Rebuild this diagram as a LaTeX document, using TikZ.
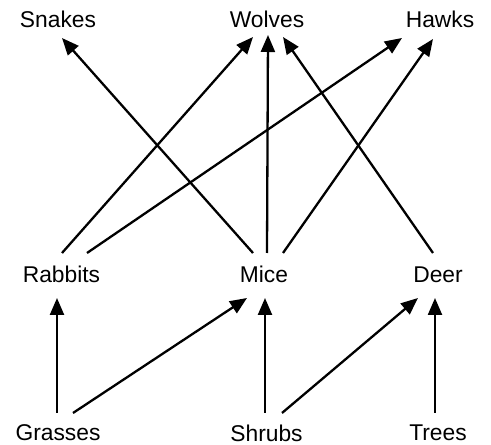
\documentclass[tikz,border=0pt]{standalone}
\usepackage{fontspec}
\setmainfont{Liberation Sans}
\usetikzlibrary{arrows.meta}
\begin{document}
\begin{tikzpicture}[x=1pt,y=1pt,
  species/.style={inner sep=0pt,font=\fontsize{22.8}{26}\selectfont},
  feeds/.style={line width=2.3pt,-{Triangle[length=17pt,width=14pt]}}]
\useasboundingbox (0,0) rectangle (491,445);
% predators
\node[species] (snakes) at (58,425.5) {Snakes};
\node[species] (wolves) at (267,425.5) {Wolves};
\node[species] (hawks)  at (440,425.5) {Hawks};
% herbivores
\node[species] (rabbits) at (61.5,170.5) {Rabbits};
\node[species] (mice)    at (264,170.5) {Mice};
\node[species] (deer)    at (438,170.5) {Deer};
% plants
\node[species] (grasses) at (58,12) {Grasses};
\node[species] (shrubs)  at (266.5,12) {Shrubs};
\node[species] (trees)   at (438,12) {Trees};
% herbivores to predators
\draw[feeds] ([shift={(-11,21.5)}]mice.center) -- ([shift={(4,-18.5)}]snakes.center);
\draw[feeds] ([shift={(0.5,21.5)}]rabbits.center) -- ([shift={(-14,-17.5)}]wolves.center);
\draw[feeds] ([shift={(3,21.5)}]mice.center) -- ([shift={(1,-15.5)}]wolves.center);
\draw[feeds] ([shift={(-5,21.5)}]deer.center) -- ([shift={(16,-17.5)}]wolves.center);
\draw[feeds] ([shift={(25.5,21.5)}]rabbits.center) -- ([shift={(-38,-18.5)}]hawks.center);
\draw[feeds] ([shift={(19,21.5)}]mice.center) -- ([shift={(-7,-19.5)}]hawks.center);
% plants to herbivores
\draw[feeds] ([shift={(-1,20)}]grasses.center) -- ([shift={(-4.5,-23.5)}]rabbits.center);
\draw[feeds] ([shift={(15,20)}]grasses.center) -- ([shift={(-17,-23.5)}]mice.center);
\draw[feeds] ([shift={(-1.5,20)}]shrubs.center) -- ([shift={(1,-23.5)}]mice.center);
\draw[feeds] ([shift={(15.5,20)}]shrubs.center) -- ([shift={(-20,-23.5)}]deer.center);
\draw[feeds] ([shift={(-3,20)}]trees.center) -- ([shift={(-3,-23.5)}]deer.center);
\end{tikzpicture}
\end{document}
